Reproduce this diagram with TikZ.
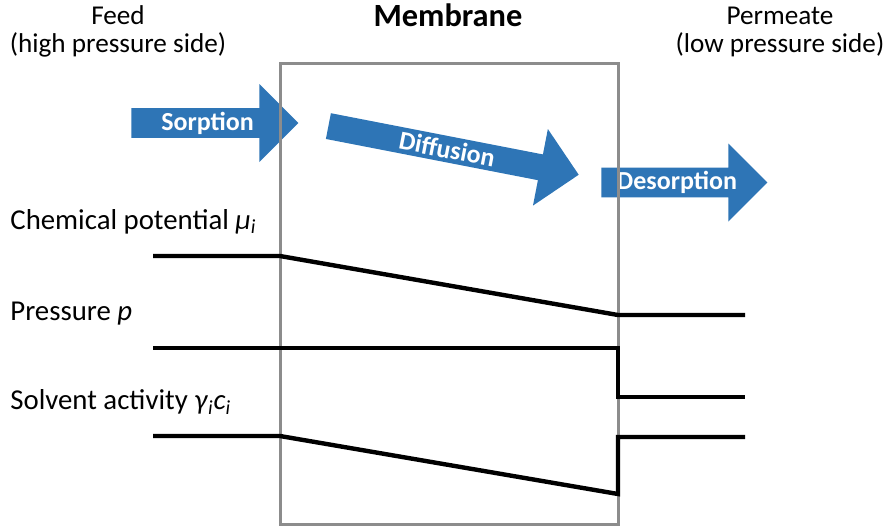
\documentclass[tikz,border=0pt]{standalone}
\usepackage{fontspec}
\setmainfont{Carlito}
\usetikzlibrary{shapes.arrows,positioning}
\definecolor{flowblue}{RGB}{46,117,182}
\definecolor{wallgray}{RGB}{140,140,140}
\tikzset {
sidetext/.style={font=\fontsize{13.6}{16}\selectfont,inner sep=0pt,text height=2ex,text depth=.6ex},
quantity/.style={sidetext,font=\fontsize{14.4}{17}\selectfont,anchor=west},
title/.style={font=\fontsize{16.2}{19}\selectfont\bfseries,inner sep=0pt,text height=2ex,text depth=.6ex},
flow/.style={shape=single arrow,fill=flowblue,text=white,
  font=\fontsize{13}{15}\selectfont\bfseries,single arrow head extend=9.5pt,minimum width=39pt,
  inner sep=0pt,anchor=tail},
profile/.style={line width=2.2pt,line join=miter},
wall/.style={draw=wallgray,line width=1.5pt}
}

\begin{document}
\begin{tikzpicture}
[x=0.5pt,y=-0.5pt,node distance=14pt]
\useasboundingbox (0,0) rectangle (885,526);
\node[title] (membrane) at (448,20) {Membrane};
\node[sidetext] (feed) at (118,18) {Feed};
\node[sidetext] (feed side) [below of=feed] {(high pressure side)};
\node[sidetext] (permeate) at (780,18) {Permeate};
\node[sidetext] (permeate side) [below of=permeate] {(low pressure side)};

\node[flow,minimum height=83.5pt] (sorption) at (131,123) {Sorption};
\node[flow,minimum height=127.5pt,rotate=-11] (diffusion) at (328,126) {Diffusion};
\node[flow,minimum height=83pt] (desorption) at (601,182.5) {Desorption};

\draw[wall] (280,63) rectangle (618,524);

\node[quantity] (potential) at (10,222.5) {Chemical potential \textit{μ}\textsubscript{\itshape i}};
\node[quantity] (pressure) at (10,313.5) {Pressure \textit{p}};
\node[quantity] (activity) at (10,403) {Solvent activity \textit{γ}\textsubscript{\itshape i}\textit{c}\textsubscript{\itshape i}};

\draw[profile] (153,256) -- (280,256) -- (618,315) -- (745,315);
\draw[profile] (153,348) -- (618,348) -- (618,397) -- (745,397);
\draw[profile] (153,436) -- (280,436) -- (618,494) -- (618,437) -- (745,437);
\end{tikzpicture}
\end{document}
